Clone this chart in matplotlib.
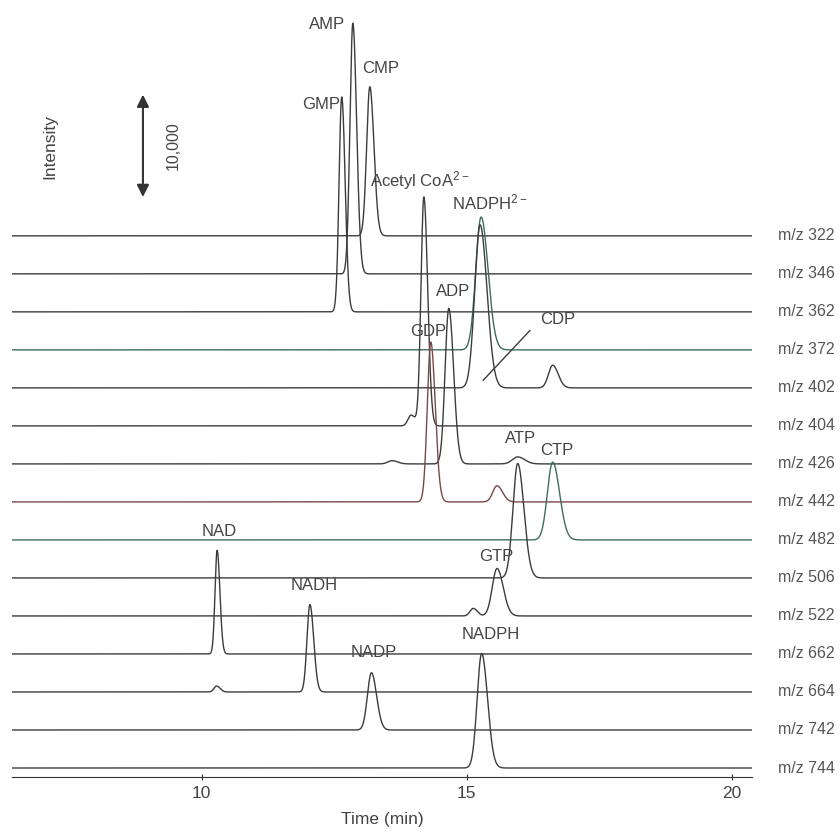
import matplotlib
matplotlib.use("Agg")
import matplotlib.pyplot as plt
import numpy as np

plt.rcParams["font.family"] = ["Liberation Sans", "DejaVu Sans"]
plt.rcParams["mathtext.fontset"] = "custom"
plt.rcParams["mathtext.rm"] = "Liberation Sans"
plt.rcParams["mathtext.default"] = "regular"

# traces, top to bottom
mz_labels = ["m/z 322", "m/z 346", "m/z 362", "m/z 372", "m/z 402", "m/z 404",
             "m/z 426", "m/z 442", "m/z 482", "m/z 506", "m/z 522", "m/z 662",
             "m/z 664", "m/z 742", "m/z 744"]
trace_colors = ["#3c3c3c", "#3c3c3c", "#3c3c3c", "#3d6b5c", "#3c3c3c", "#3c3c3c",
                "#3c3c3c", "#7a4848", "#3f6e5a", "#3c3c3c", "#3c3c3c", "#3c3c3c",
                "#3c3c3c", "#3c3c3c", "#3c3c3c"]
offset_step = 3519  # intensity between baselines

# peaks: trace index, retention time (min), height (counts), width sigma (min)
peak_trace = [0, 1, 2, 3, 4, 4, 5, 5, 6, 6, 6, 7, 7, 8, 9, 10, 10, 11, 12, 12, 13, 14]
peak_time = [13.17, 12.85, 12.64, 15.27, 15.25, 16.62, 14.19, 13.95, 14.66, 15.96, 13.59,
             14.32, 15.57, 16.62, 15.96, 15.57, 15.12, 10.29, 12.04, 10.28, 13.20, 15.28]
peak_height = [13800, 23200, 19900, 12300, 15100, 2100, 21200, 1000, 14400, 650, 300,
               14800, 1500, 7200, 10600, 4400, 700, 9600, 8100, 550, 5300, 10600]
peak_sigma = [0.06, 0.055, 0.05, 0.1, 0.1, 0.08, 0.055, 0.06, 0.07, 0.1, 0.08,
              0.065, 0.08, 0.1, 0.09, 0.09, 0.06, 0.04, 0.055, 0.05, 0.075, 0.085]

# peak names: text, time, intensity, alignment
label_text = ["AMP", "CMP", "GMP", "Acetyl CoA$^{2-}$", "NADPH$^{2-}$", "ADP", "GDP",
              "CDP", "ATP", "CTP", "GTP", "NAD", "NADH", "NADP", "NADPH"]
label_t = [12.70, 13.02, 12.61, 13.17, 14.72, 14.74, 14.27, 16.72, 16.02, 16.70,
           15.55, 10.33, 12.12, 13.25, 15.46]
label_y = [68800, 64800, 61400, 54400, 52400, 44100, 40400, 41500, 30500, 29400,
           19600, 21900, 16850, 10650, 12400]
label_ha = ["right", "left", "right", "left", "left", "center", "center", "center",
            "center", "center", "center", "center", "center", "center", "center"]

t = np.linspace(6.42, 20.38, 4000)
n = len(mz_labels)

fig = plt.figure(figsize=(8.4, 8.33), dpi=100)
ax = fig.add_axes([12 / 840, 56 / 833, 740 / 840, 777 / 833])

for i in range(n):
    base = (n - 1 - i) * offset_step
    y = np.full_like(t, base, dtype=float)
    for tr, tc, h, s in zip(peak_trace, peak_time, peak_height, peak_sigma):
        if tr != i:
            continue
        sig = np.where(t < tc, s, s * 1.3)
        y += h * np.exp(-0.5 * ((t - tc) / sig) ** 2)
    ax.plot(t, y, color=trace_colors[i], lw=1.0)
    ax.text(20.87, base, mz_labels[i], fontsize=11.5, color="#555555",
            va="center", ha="left", clip_on=False)

for txt, lt, ly, ha in zip(label_text, label_t, label_y, label_ha):
    ax.text(lt, ly, txt, fontsize=12, color="#444444", ha=ha, va="center")

# pointer line for CDP
ax.plot([16.19, 15.31], [40500, 35900], color="#3c3c3c", lw=1.0)

# intensity scale bar
ax.annotate("", xy=(8.89, 52600), xytext=(8.89, 62600),
            arrowprops=dict(arrowstyle="<|-|>", color="#333333", lw=1.5,
                            mutation_scale=18))
ax.text(9.46, 57600, "10,000", rotation=90, fontsize=11.5, color="#444444",
        ha="center", va="center")
ax.text(7.14, 57500, "Intensity", rotation=90, fontsize=12.5, color="#444444",
        ha="center", va="center")

ax.set_xlim(6.42, 20.38)
ax.set_ylim(-833, 71100)
for sp in ["top", "right", "left"]:
    ax.spines[sp].set_visible(False)
ax.spines["bottom"].set_color("#333333")
ax.set_yticks([])
ax.set_xticks([10, 15, 20])
ax.tick_params(axis="x", direction="inout", length=5, labelsize=12.5,
               colors="#333333", labelcolor="#444444", pad=4)
ax.set_xlabel("Time (min)", fontsize=12.5, color="#444444", labelpad=8)

fig.savefig("out.png", dpi=100)
